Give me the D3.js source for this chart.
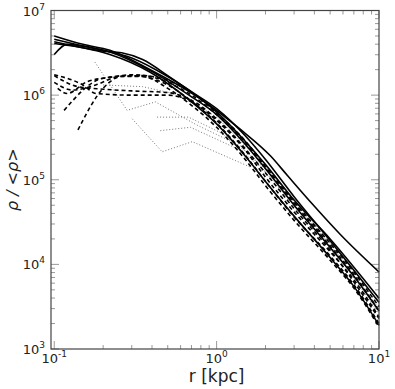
<!DOCTYPE html>
<html>
<head>
<meta charset="utf-8">
<script src="https://cdn.jsdelivr.net/npm/d3@7"></script>
<style>
  body { margin: 0; background: #fff; }
  text { font-family: "DejaVu Sans", sans-serif; }
</style>
</head>
<body>
<div id="chart"></div>
<script>
// profiles: [r in kpc, log10(rho/<rho>)]
const solidProfiles = [
    [[0.1,6.70],[0.15,6.60],[0.22,6.53],[0.39,6.30],[0.79,5.96],[1.39,5.60],[2.15,5.28],[2.73,5.05],[3.9,4.71],[5.8,4.35],[10,3.91]],
    [[0.1,6.66],[0.15,6.58],[0.22,6.51],[0.39,6.29],[0.7,5.98],[1,5.77],[1.5,5.42],[2,5.13],[3,4.70],[5,4.20],[7,3.86],[10,3.45]],
    [[0.1,6.61],[0.15,6.56],[0.22,6.48],[0.39,6.27],[0.7,5.92],[1,5.66],[1.5,5.28],[2,4.98],[3,4.57],[5,4.08],[7,3.74],[10,3.28]],
    [[0.1,6.48],[0.12,6.60],[0.2,6.53],[0.3,6.44],[0.5,6.22],[0.7,6.04],[1,5.84],[1.5,5.52],[2,5.24],[3,4.80],[5,4.28],[7,3.93],[10,3.55]],
    [[0.1,6.63],[0.2,6.52],[0.26,6.50],[0.35,6.42],[0.5,6.23],[1,5.80],[2,5.18],[3,4.76],[5,4.30],[10,3.60]]
];

const dashedProfiles = [
    [[0.1,6.24],[0.15,6.12],[0.18,6.02],[0.3,6.0],[0.5,6.0],[0.7,5.92],[1,5.70],[1.5,5.35],[2,5.03],[3,4.62],[5,4.15],[7,3.82],[10,3.38]],
    [[0.1,6.15],[0.13,6.06],[0.18,6.12],[0.25,6.22],[0.35,6.23],[0.5,6.15],[0.7,6.0],[1,5.77],[1.5,5.44],[2,5.14],[3,4.72],[5,4.22],[7,3.88],[10,3.45]],
    [[0.105,6.08],[0.12,6.02],[0.16,6.16],[0.22,6.21],[0.3,6.24],[0.45,6.2],[0.7,6.03],[1,5.79],[1.5,5.46],[2,5.16],[3,4.74],[5,4.25],[7,3.91],[10,3.50]],
    [[0.115,5.82],[0.2,6.2],[0.3,6.23],[0.5,6.12],[0.7,5.93],[1,5.67],[1.5,5.29],[2,4.98],[3,4.56],[5,4.10],[7,3.76],[10,3.30]],
    [[0.14,5.59],[0.2,6.08],[0.26,6.22],[0.35,6.22],[0.5,6.08],[0.7,5.88],[1,5.62],[1.5,5.24],[2,4.93],[3,4.52],[5,4.05],[7,3.72],[10,3.26]],
    [[0.1,6.23],[0.14,6.10],[0.2,6.07],[0.3,6.05],[0.5,6.03],[0.7,5.94],[1,5.72],[2,5.08],[3,4.66],[5,4.17],[10,3.36]]
];

const dottedProfiles = [
    [[0.178,6.39],[0.281,5.82],[0.42,5.92],[0.75,5.65],[1.4,5.40],[2.5,4.95],[5,4.25],[10,3.45]],
    [[0.43,5.74],[0.67,5.74],[1.05,5.56],[1.6,5.30],[3,4.70],[6,4.02],[10,3.42]],
    [[0.45,5.58],[0.69,5.62],[1.4,5.35],[2,5.1]],
    [[0.302,5.72],[0.462,5.33],[0.708,5.45],[1.61,5.15]],
    [[0.2,6.12],[0.35,6.10],[0.6,6.0],[1,5.74],[2,5.16],[5,4.22],[10,3.48]]
];

const xTicks = [0.1, 1, 10];
const xTickExp = ["-1", "0", "1"];
const yTicks = [1e3, 1e4, 1e5, 1e6, 1e7];
const yTickExp = ["3", "4", "5", "6", "7"];

const width = 395, height = 389;
const margin = { top: 10.5, right: 16, bottom: 40, left: 51 };
const w = width - margin.left - margin.right;
const h = height - margin.top - margin.bottom;

const svg = d3.select("#chart").append("svg")
    .attr("width", width)
    .attr("height", height);

const g = svg.append("g")
    .attr("transform", "translate(" + margin.left + "," + margin.top + ")");

const x = d3.scaleLog().domain([0.0955, 10]).range([0, w]);
const y = d3.scaleLog().domain([1e3, 1e7]).range([h, 0]);

// minor ticks
let xMinor = [], yMinor = [];
for (let d = 0.1; d < 10; d *= 10) {
    for (let k = 2; k <= 9; k++) xMinor.push(d * k);
}
for (let d = 1e3; d < 1e7; d *= 10) {
    for (let k = 2; k <= 9; k++) yMinor.push(d * k);
}

const tickColor = "#999";
const ticks = g.append("g").attr("class", "ticks");
function xTick(v, len) {
    ticks.append("line").attr("x1", x(v)).attr("x2", x(v)).attr("y1", h).attr("y2", h - len)
        .attr("stroke", tickColor);
    ticks.append("line").attr("x1", x(v)).attr("x2", x(v)).attr("y1", 0).attr("y2", len)
        .attr("stroke", tickColor);
}
function yTick(v, len) {
    ticks.append("line").attr("x1", 0).attr("x2", len).attr("y1", y(v)).attr("y2", y(v))
        .attr("stroke", tickColor);
    ticks.append("line").attr("x1", w).attr("x2", w - len).attr("y1", y(v)).attr("y2", y(v))
        .attr("stroke", tickColor);
}
xTicks.forEach(v => xTick(v, 8));
xMinor.forEach(v => xTick(v, 4));
yTicks.forEach(v => yTick(v, 8));
yMinor.forEach(v => yTick(v, 4));

const line = d3.line()
    .curve(d3.curveMonotoneX)
    .x(d => x(d[0]))
    .y(d => y(Math.pow(10, d[1])));

const polyline = d3.line()
    .x(d => x(d[0]))
    .y(d => y(Math.pow(10, d[1])));

g.append("g").selectAll("path")
    .data(dottedProfiles)
    .enter().append("path")
    .attr("fill", "none")
    .attr("stroke", "#777")
    .attr("stroke-width", 1)
    .attr("stroke-dasharray", "1,2")
    .attr("d", polyline);

g.append("g").selectAll("path")
    .data(dashedProfiles)
    .enter().append("path")
    .attr("fill", "none")
    .attr("stroke", "#000")
    .attr("stroke-width", 1.6)
    .attr("stroke-dasharray", "4,3")
    .attr("d", line);

g.append("g").selectAll("path")
    .data(solidProfiles)
    .enter().append("path")
    .attr("fill", "none")
    .attr("stroke", "#000")
    .attr("stroke-width", 1.6)
    .attr("d", line);

// frame
g.append("rect")
    .attr("width", w).attr("height", h)
    .attr("fill", "none")
    .attr("stroke", "#444")
    .attr("stroke-width", 1.2);

// tick labels
xTicks.forEach((v, i) => {
    const t = g.append("text")
        .attr("x", x(v))
        .attr("y", h + 14)
        .attr("text-anchor", "middle")
        .attr("font-size", 13)
        .attr("fill", "#222");
    t.append("tspan").text("10");
    t.append("tspan").attr("dy", -6).attr("font-size", 9).text(xTickExp[i]);
});

yTicks.forEach((v, i) => {
    const t = g.append("text")
        .attr("x", -6)
        .attr("y", y(v) + 5)
        .attr("text-anchor", "end")
        .attr("font-size", 13)
        .attr("fill", "#222");
    t.append("tspan").text("10");
    t.append("tspan").attr("dy", -6).attr("font-size", 9).text(yTickExp[i]);
});

// axis titles
g.append("text")
    .attr("x", x(1))
    .attr("y", h + 33)
    .attr("text-anchor", "middle")
    .attr("font-size", 17)
    .attr("fill", "#222")
    .text("r [kpc]");

g.append("text")
    .attr("transform", "translate(" + (-33) + "," + (h / 2) + ") rotate(-90)")
    .attr("text-anchor", "middle")
    .attr("font-size", 16)
    .attr("font-style", "italic")
    .attr("fill", "#222")
    .text("ρ / <ρ>");
</script>
</body>
</html>
